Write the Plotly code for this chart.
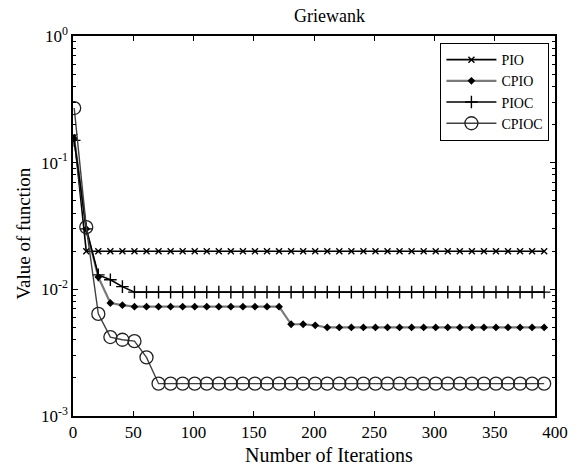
import plotly.graph_objects as go

# Iterations at which the best fitness was recorded (every 10 iterations)
iterations = [1, 11, 21, 31, 41, 51, 61, 71, 81, 91,
              101, 111, 121, 131, 141, 151, 161, 171, 181, 191,
              201, 211, 221, 231, 241, 251, 261, 271, 281, 291,
              301, 311, 321, 331, 341, 351, 361, 371, 381, 391]

pio = [0.16, 0.020, 0.020, 0.020, 0.020, 0.020, 0.020, 0.020, 0.020, 0.020,
       0.020, 0.020, 0.020, 0.020, 0.020, 0.020, 0.020, 0.020, 0.020, 0.020,
       0.020, 0.020, 0.020, 0.020, 0.020, 0.020, 0.020, 0.020, 0.020, 0.020,
       0.020, 0.020, 0.020, 0.020, 0.020, 0.020, 0.020, 0.020, 0.020, 0.020]

cpio = [0.155, 0.030, 0.0125, 0.0078, 0.0075, 0.0073, 0.0073, 0.0073, 0.0073, 0.0073,
        0.0073, 0.0073, 0.0073, 0.0073, 0.0073, 0.0073, 0.0073, 0.0073, 0.0053, 0.0053,
        0.0052, 0.0050, 0.0050, 0.0050, 0.0050, 0.0050, 0.0050, 0.0050, 0.0050, 0.0050,
        0.0050, 0.0050, 0.0050, 0.0050, 0.0050, 0.0050, 0.0050, 0.0050, 0.0050, 0.0050]

pioc = [0.15, 0.030, 0.013, 0.0119, 0.0105, 0.0095, 0.0095, 0.0095, 0.0095, 0.0095,
        0.0095, 0.0095, 0.0095, 0.0095, 0.0095, 0.0095, 0.0095, 0.0095, 0.0095, 0.0095,
        0.0095, 0.0095, 0.0095, 0.0095, 0.0095, 0.0095, 0.0095, 0.0095, 0.0095, 0.0095,
        0.0095, 0.0095, 0.0095, 0.0095, 0.0095, 0.0095, 0.0095, 0.0095, 0.0095, 0.0095]

cpioc = [0.27, 0.031, 0.0064, 0.0042, 0.0040, 0.0039, 0.0029, 0.0018, 0.0018, 0.0018,
         0.0018, 0.0018, 0.0018, 0.0018, 0.0018, 0.0018, 0.0018, 0.0018, 0.0018, 0.0018,
         0.0018, 0.0018, 0.0018, 0.0018, 0.0018, 0.0018, 0.0018, 0.0018, 0.0018, 0.0018,
         0.0018, 0.0018, 0.0018, 0.0018, 0.0018, 0.0018, 0.0018, 0.0018, 0.0018, 0.0018]

x_ticks = [0, 50, 100, 150, 200, 250, 300, 350, 400]
y_ticks = [1e-3, 1e-2, 1e-1, 1e0]
y_tick_text = ["10<sup>-3</sup>", "10<sup>-2</sup>", "10<sup>-1</sup>", "10<sup>0</sup>"]
y_minor = [m * 10 ** e for e in (-3, -2, -1) for m in range(2, 10)]

FONT = "Liberation Serif"
GRAY = "#7a7a7a"

fig = go.Figure()

fig.add_trace(go.Scatter(
    x=iterations, y=pio, name="PIO", mode="lines+markers",
    line=dict(color="black", width=1.6),
    marker=dict(symbol="x-thin", size=6, line=dict(color="black", width=1.4)),
))
fig.add_trace(go.Scatter(
    x=iterations, y=cpio, name="CPIO", mode="lines+markers",
    line=dict(color=GRAY, width=2.2),
    marker=dict(symbol="diamond", size=6, color="black"),
))
fig.add_trace(go.Scatter(
    x=iterations, y=pioc, name="PIOC", mode="lines+markers",
    line=dict(color="black", width=1.6),
    marker=dict(symbol="cross-thin", size=9, line=dict(color="black", width=1.4)),
))
fig.add_trace(go.Scatter(
    x=iterations, y=cpioc, name="CPIOC", mode="lines+markers",
    line=dict(color="#404040", width=1.4),
    marker=dict(symbol="circle-open", size=13, color="#222222",
                line=dict(width=1.3)),
))

axis_common = dict(
    showgrid=False, zeroline=False, showline=True, linecolor="black",
    linewidth=1.5, mirror="ticks", ticks="inside", ticklen=5,
    tickcolor="black", tickfont=dict(family=FONT, size=17, color="black"),
)

fig.update_xaxes(range=[0, 400], tickvals=x_ticks, **axis_common)
fig.update_yaxes(
    type="log", range=[-3, 0], tickvals=y_ticks, ticktext=y_tick_text,
    minor=dict(tickvals=y_minor, ticks="inside", ticklen=3, tickcolor="black"),
    **axis_common,
)

fig.update_layout(
    width=586, height=468,
    margin=dict(l=73, r=31, t=36, b=52),
    paper_bgcolor="white", plot_bgcolor="white",
    font=dict(family=FONT, color="black"),
    showlegend=True,
    legend=dict(
        x=0.988, y=0.982, xanchor="right", yanchor="top",
        bgcolor="white", bordercolor="black", borderwidth=1.2,
        font=dict(family=FONT, size=14, color="black"),
        itemwidth=50, tracegroupgap=0,
    ),
    annotations=[
        dict(text="Griewank", xref="paper", yref="paper", x=0.533, y=1.0,
             yshift=20, xanchor="center", yanchor="middle", showarrow=False,
             font=dict(family=FONT, size=18, color="black")),
        dict(text="Number of Iterations", xref="paper", yref="paper", x=0.531, y=0,
             yshift=-39, xanchor="center", yanchor="middle", showarrow=False,
             font=dict(family=FONT, size=20, color="black")),
        dict(text="Value of function", xref="paper", yref="paper", x=0, y=0.48,
             xshift=-49, xanchor="center", yanchor="middle", showarrow=False,
             textangle=-90, font=dict(family=FONT, size=19, color="black")),
    ],
)

fig.write_html("out.html")
